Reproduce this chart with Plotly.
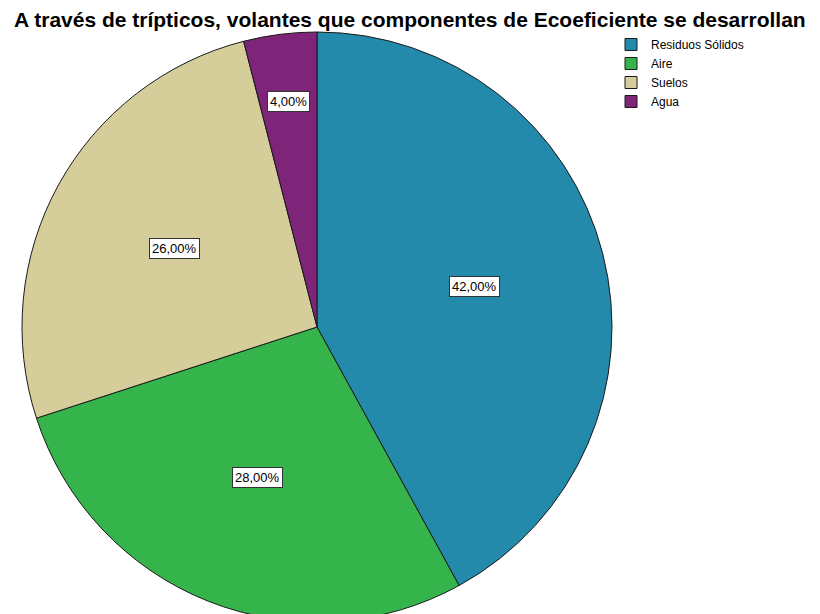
import math
import plotly.graph_objects as go

title = "A través de trípticos, volantes que componentes de Ecoeficiente se desarrollan"
categories = ["Residuos Sólidos", "Aire", "Suelos", "Agua"]
values = [42.0, 28.0, 26.0, 4.0]
colors = ["#248aab", "#34b44a", "#d5cd9a", "#7e2479"]

W, H = 820, 614
# the page body adds an 8px offset; these are figure coordinates
cx, cy, r = 309, 319, 295  # pixel centre and radius of the pie

fig = go.Figure(go.Pie(
    labels=categories,
    values=values,
    sort=False,
    direction="clockwise",
    rotation=0,
    marker=dict(colors=colors, line=dict(color="#1a1a1a", width=1)),
    textinfo="none",
    hoverinfo="label+percent",
    domain=dict(x=[(cx - r) / W, (cx + r) / W], y=[max(0, (H - cy - r) / H), (H - cy + r) / H]),
))

# label boxes placed from the data (mid-angle of each slice)
total = sum(values)
cum = 0.0
annotations = []
for cat, v in zip(categories, values):
    frac = v / total
    mid = (cum + frac / 2) * 2 * math.pi
    cum += frac
    k = 0.55 if frac > 0.1 else 0.77
    px = cx + k * r * math.sin(mid)
    py = cy - k * r * math.cos(mid)
    annotations.append(dict(
        x=px / W, y=1 - py / H, xref="paper", yref="paper",
        xanchor="center", yanchor="middle",
        text=f"{frac * 100:.2f}%".replace(".", ","),
        showarrow=False,
        font=dict(family="Liberation Sans, Arial", size=13, color="#000000"),
        bgcolor="#ffffff", bordercolor="#333333", borderwidth=1, borderpad=2,
    ))

fig.update_layout(
    width=W, height=H,
    margin=dict(l=0, r=0, t=0, b=0),
    paper_bgcolor="#ffffff",
    title=dict(text=f"<b>{title}</b>", x=6 / W, xanchor="left", y=1 - 12 / H, yanchor="middle",
               font=dict(family="Liberation Sans, Arial", size=21, color="#000000")),
    legend=dict(x=603 / W, y=1 - 22 / H, xanchor="left", yanchor="top",
                font=dict(family="Liberation Sans, Arial", size=12, color="#000000"),
                itemwidth=30, tracegroupgap=0, bgcolor="rgba(0,0,0,0)"),
    annotations=annotations,
    showlegend=True,
)

fig.write_html("out.html")
